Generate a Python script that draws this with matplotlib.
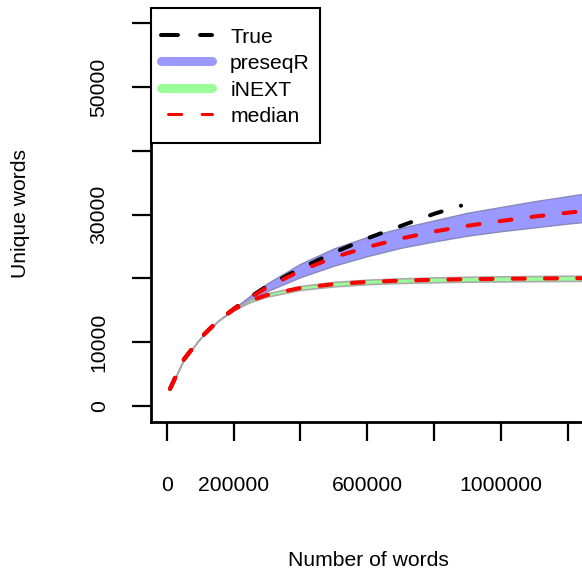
import matplotlib
matplotlib.use("Agg")
import matplotlib.pyplot as plt
from matplotlib.lines import Line2D
from matplotlib.legend_handler import HandlerLine2D

plt.rcParams['font.family'] = ['Liberation Sans', 'DejaVu Sans']

# number of words (x) and unique words (y)
words = [10000, 50000, 100000, 150000, 200000, 250000, 300000, 400000, 500000,
         600000, 700000, 800000, 900000, 1000000, 1100000, 1200000, 1300000]

true_words = [10000, 50000, 100000, 150000, 200000, 250000, 300000, 400000,
              500000, 600000, 700000, 800000, 880000]
true_unique = [2700, 7200, 10600, 13200, 15200, 17100, 18800, 21550,
               24050, 26280, 28220, 30130, 31400]

preseq_median = [2700, 7200, 10600, 13200, 15200, 17000, 18600, 21200, 23300,
                 24900, 26250, 27350, 28250, 29000, 29700, 30300, 30850]
preseq_lower = [2700, 7200, 10600, 13200, 15150, 16700, 18000, 20200, 22000,
                23500, 24800, 25800, 26700, 27400, 28000, 28600, 29100]
preseq_upper = [2700, 7200, 10600, 13200, 15250, 17300, 19200, 22300, 24700,
                26500, 27900, 29100, 30300, 31200, 32100, 32900, 33700]

inext_median = [2700, 7200, 10600, 13200, 15100, 16500, 17400, 18500, 19100,
                19450, 19650, 19780, 19870, 19930, 19980, 20020, 20050]
inext_lower = [2700, 7200, 10600, 13200, 15050, 16300, 17150, 18200, 18750,
               19100, 19280, 19400, 19480, 19530, 19570, 19600, 19630]
inext_upper = [2700, 7200, 10600, 13200, 15150, 16700, 17650, 18800, 19450,
               19800, 20000, 20150, 20250, 20320, 20370, 20410, 20440]

x_ticks = [0, 200000, 400000, 600000, 800000, 1000000, 1200000]
x_labels = ['0', '200000', '', '600000', '', '1000000', '']
y_ticks = [0, 10000, 20000, 30000, 40000, 50000, 60000]
y_labels = ['0', '10000', '', '30000', '', '50000', '']


class LoweredLine(HandlerLine2D):
    # legend rows are made taller than usual, so pull the sample line
    # back down to the middle of the label text
    def create_artists(self, *args, **kwargs):
        artists = super().create_artists(*args, **kwargs)
        for a in artists:
            a.set_ydata([y - 3.3 for y in a.get_ydata()])
        return artists


W, H = 582, 574
FS = 15.2
fig = plt.figure(figsize=(W / 100, H / 100), dpi=100)
ax = fig.add_axes([151 / W, (H - 422) / H, (582 - 151) / W, (422 - 8) / H])

blue_fill = '#9999FF'
green_fill = '#99FF99'
lw = 2.9
dash = (3, 5)

ax.fill_between(words, preseq_lower, preseq_upper, facecolor=blue_fill,
                edgecolor='#8888BB', linewidth=1.0, zorder=2)
ax.fill_between(words, inext_lower, inext_upper, facecolor=green_fill,
                edgecolor='#AAAAAA', linewidth=1.2, zorder=2)

ax.plot(true_words, true_unique, color='black', lw=lw, dashes=dash,
        dash_capstyle='round', zorder=3)
ax.plot(words, preseq_median, color='red', lw=lw, dashes=dash,
        dash_capstyle='round', zorder=4)
ax.plot(words, inext_median, color='red', lw=lw, dashes=dash,
        dash_capstyle='round', zorder=4)

ax.set_xlim(-46940, 1241570)
ax.set_ylim(-2508, 62380)

for side in ['top', 'right']:
    ax.spines[side].set_visible(False)
for side in ['left', 'bottom']:
    ax.spines[side].set_linewidth(2.0)

ax.set_xticks(x_ticks)
ax.set_xticklabels(x_labels)
ax.set_yticks(y_ticks)
ax.set_yticklabels(y_labels, rotation=90, va='center')
ax.tick_params(axis='x', length=14, width=1.6, pad=25, labelsize=FS)
ax.tick_params(axis='y', length=13.5, width=1.6, pad=17, labelsize=FS)

fig.text(368 / W, 1 - 561 / H, 'Number of words', ha='center', va='center',
         fontsize=FS)
fig.text(21 / W, 1 - 214 / H, 'Unique words', ha='center', va='center',
         rotation=90, fontsize=FS)

handles = [
    Line2D([], [], color='black', lw=2.9, linestyle=(0, (4.2, 5.5)),
           dash_capstyle='round'),
    Line2D([], [], color=blue_fill, lw=6.5, solid_capstyle='round'),
    Line2D([], [], color=green_fill, lw=6.5, solid_capstyle='round'),
    Line2D([], [], color='red', lw=2.2, linestyle=(8.7, (4.3, 6.7)),
           dash_capstyle='round'),
]
leg = ax.legend(handles, ['True', 'preseqR', 'iNEXT', 'median'],
                loc='upper left', bbox_to_anchor=(0, 1), borderaxespad=0,
                fontsize=FS, handlelength=2.4, handletextpad=0.88,
                handleheight=2.26, labelspacing=-0.46, borderpad=0.47,
                fancybox=False, framealpha=1, edgecolor='black',
                handler_map={Line2D: LoweredLine()})
leg.get_frame().set_linewidth(1.5)

fig.savefig('out.png', dpi=100)
